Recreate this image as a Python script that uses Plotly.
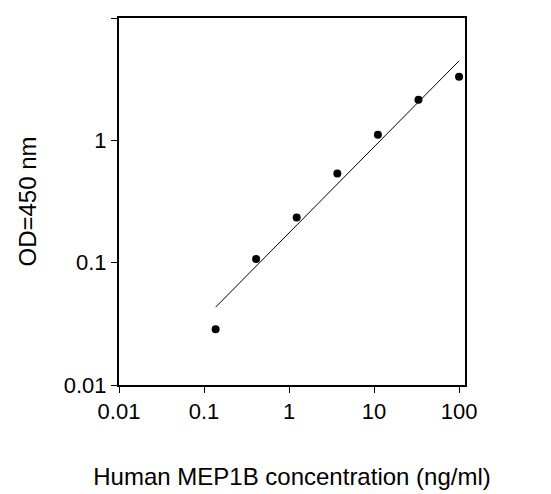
import plotly.graph_objects as go

conc = [0.137, 0.41, 1.23, 3.7, 11.1, 33.3, 100]
od = [0.0286, 0.107, 0.234, 0.536, 1.11, 2.15, 3.31]
fit_x = [0.137, 100]
fit_y = [0.0433, 4.46]
ticks = [0.01, 0.1, 1, 10, 100]
tick_text = ["0.01", "0.1", "1", "10", "100"]

fig = go.Figure()
fig.add_trace(go.Scatter(x=fit_x, y=fit_y, mode="lines", line=dict(color="black", width=1)))
fig.add_trace(go.Scatter(x=conc, y=od, mode="markers", marker=dict(color="black", size=8)))
font = dict(family="Liberation Sans, Arial", color="black")
fig.update_layout(
    width=551, height=494, showlegend=False,
    plot_bgcolor="white", paper_bgcolor="white",
    margin=dict(l=111, r=94, t=10, b=117, autoexpand=False),
    font=dict(**font, size=22),
)
fig.update_xaxes(type="log", range=[-2, 2.07], tickvals=ticks, ticktext=tick_text, automargin=False,
                 showgrid=False, zeroline=False, showline=True, linecolor="black", linewidth=2,
                 mirror=True, ticks="outside", ticklen=6, tickcolor="black",
                 title=dict(text="Human MEP1B concentration (ng/ml)", font=dict(size=24), standoff=45))
fig.update_yaxes(type="log", range=[-2, 1], tickvals=ticks[:4], ticktext=tick_text[:4], automargin=False,
                 showgrid=False, zeroline=False, showline=True, linecolor="black", linewidth=2,
                 mirror=True, ticks="outside", ticklen=6, tickcolor="black",
                 title=dict(text="OD=450 nm", font=dict(size=24), standoff=20))
fig.write_html("out.html")
